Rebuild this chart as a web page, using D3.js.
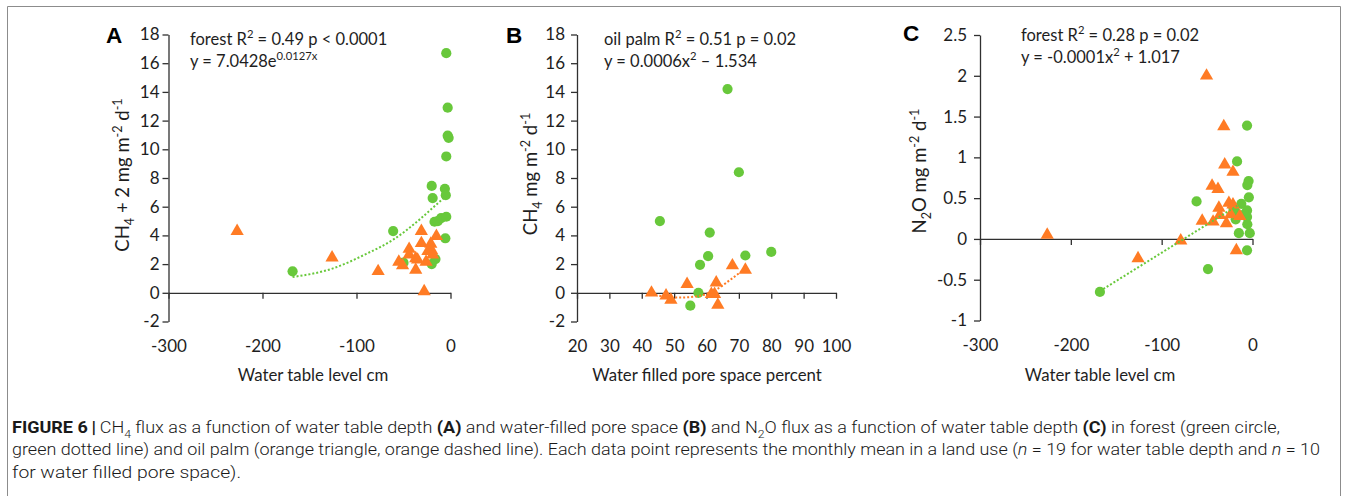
<!DOCTYPE html>
<html>
<head>
<meta charset="utf-8">
<script src="https://cdn.jsdelivr.net/npm/d3@7"></script>
<style>
  body { margin: 0; background: #fff; }
  svg { display: block; }
  text { white-space: pre; }
</style>
</head>
<body>
<svg id="fig" width="1354" height="496"></svg>
<script>
// ---- Panel A: CH4 (+2) vs water table level ----
const aForestWt   = [-168, -61, -50, -20, -19, -6, -5, -17, -13.5, -10, -4.5, -5.5, -16, -20, -4.5, -3, -3, -2, -4.5];
const aForestFlux = [1.5, 4.3, 2.1, 7.45, 6.6, 7.25, 6.8, 4.95, 5.0, 5.2, 5.3, 3.8, 2.35, 2.0, 16.7, 12.9, 10.95, 10.8, 9.5];
const aPalmWt     = [-227, -126, -77, -55, -51, -44, -44, -37, -35, -37, -31, -31, -28, -26, -21, -20, -19, -15, -24];
const aPalmFlux   = [4.3, 2.45, 1.5, 2.15, 1.9, 3.05, 2.65, 2.4, 2.3, 1.6, 4.3, 3.45, 0.1, 2.15, 3.4, 2.95, 2.65, 3.95, 2.9];
const aTrendX     = [-168, -125, -90, -61, -33, -15, -4.6];
const aTrendY     = [1.1, 1.7, 2.7, 3.7, 5.1, 6.15, 6.75];

// ---- Panel B: CH4 vs water filled pore space ----
const bForestWfps = [45.6, 61, 60.5, 58, 72, 80, 57.5, 55, 66.5, 70];
const bForestFlux = [5.0, 4.2, 2.55, 1.95, 2.6, 2.85, 0.0, -0.9, 14.2, 8.4];
const bPalmWfps   = [43, 47.5, 49, 54, 61.5, 62.5, 63, 63.5, 68, 72];
const bPalmFlux   = [0.0, -0.2, -0.5, 0.6, -0.1, -0.1, 0.7, -0.85, 1.9, 1.6];
const bTrendX     = [43, 47, 51, 55, 59, 63, 67, 71.7];
const bTrendY     = [-0.08, -0.26, -0.33, -0.3, -0.15, 0.22, 0.85, 1.65];

// ---- Panel C: N2O vs water table level ----
const cForestWt   = [-6, -17, -4.3, -5.7, -61.6, -4, -12.3, -18.5, -6, -6, -18.5, -5.7, -15, -3, -6, -49, -168, -21, -9];
const cForestFlux = [1.39, 0.95, 0.71, 0.66, 0.46, 0.51, 0.43, 0.33, 0.35, 0.27, 0.24, 0.18, 0.07, 0.07, -0.14, -0.37, -0.65, 0.38, 0.3];
const cPalmWt     = [-50.6, -31.6, -30.6, -21.5, -44.5, -38, -37, -26, -21.5, -36, -14, -55.4, -43.4, -28.7, -17.8, -79, -226, -126, -24];
const cPalmFlux   = [2.0, 1.38, 0.91, 0.82, 0.65, 0.61, 0.38, 0.44, 0.42, 0.29, 0.28, 0.22, 0.21, 0.19, -0.14, -0.02, 0.05, -0.24, 0.3];
const cTrendX     = [-168, -15];
const cTrendY     = [-0.64, 0.42];

// ---- Tick labels ----
const wtTicks   = [-300, -200, -100, 0];
const wfpsTicks = [20, 30, 40, 50, 60, 70, 80, 90, 100];
const ch4Ticks  = [-2, 0, 2, 4, 6, 8, 10, 12, 14, 16, 18];
const n2oTicks  = [-1, -0.5, 0, 0.5, 1, 1.5, 2, 2.5];

const GREEN = "#68C83B";
const ORANGE = "#FF7B24";
const INK = "#1e1e1e";
const AXIS = "#303030";
const FONT = "Lato, 'Open Sans', sans-serif";

const svg = d3.select("#fig");

// outer frame of the figure
svg.append("path")
  .attr("d", "M7.5,496 V6.5 H1340.5 V496")
  .attr("fill", "none").attr("stroke", "#8c8c8c").attr("stroke-width", 1);

// text with sub/superscripts, bold and italic runs
function rich(sel, parts, base) {
  let shift = 0;
  parts.forEach(p => {
    const [str, kind] = typeof p === "string" ? [p, "n"] : p;
    let target = 0, size = base;
    if (kind === "sub") { target = base * 0.28; size = base * 0.68; }
    if (kind === "sup") { target = -base * 0.4; size = base * 0.68; }
    const t = sel.append("tspan").text(str)
      .attr("font-size", size);
    if (target - shift !== 0) t.attr("dy", target - shift);
    if (kind === "b") t.attr("font-weight", "bold");
    if (kind === "i") t.attr("font-style", "italic");
    shift = target;
  });
  return sel;
}

function panel(cfg) {
  const x = d3.scaleLinear().domain(cfg.xDomain).range(cfg.xRange);
  const y = d3.scaleLinear().domain(cfg.yDomain).range(cfg.yRange);
  const g = svg.append("g");
  const fmt = d => String(d);

  const styleAxis = s => {
    s.attr("font-family", FONT).attr("font-size", 17);
    s.selectAll("path, line").attr("stroke", AXIS).attr("stroke-width", 1.3);
    s.selectAll("text").attr("fill", INK);
  };

  // y axis with outward ticks
  g.append("g").attr("transform", `translate(${cfg.xRange[0]},0)`)
    .call(d3.axisLeft(y).tickValues(cfg.yTicks).tickFormat(fmt)
      .tickSize(6).tickSizeOuter(0).tickPadding(cfg.yPad))
    .call(styleAxis);

  // x axis line crossing at zero, ticks only
  g.append("g").attr("transform", `translate(0,${y(0)})`)
    .call(d3.axisBottom(x).tickValues(cfg.xTicks).tickFormat("")
      .tickSize(6).tickSizeOuter(0))
    .call(styleAxis);

  // x tick labels placed below the plot
  g.append("g").attr("transform", `translate(0,${y(cfg.yDomain[0])})`)
    .call(d3.axisBottom(x).tickValues(cfg.xTicks).tickFormat(fmt).tickSize(0))
    .call(styleAxis)
    .call(s => s.select(".domain").remove())
    .call(s => s.selectAll("text").attr("y", 30.5).attr("dy", null));

  // markers
  g.append("g").selectAll("circle")
    .data(d3.zip(cfg.forestX, cfg.forestY)).join("circle")
    .attr("cx", d => x(d[0])).attr("cy", d => y(d[1]))
    .attr("r", 5.1).attr("fill", GREEN);

  const tri = d3.symbol(d3.symbolTriangle, 76);
  g.append("g").selectAll("path")
    .data(d3.zip(cfg.palmX, cfg.palmY)).join("path")
    .attr("d", tri)
    .attr("transform", d => `translate(${x(d[0])},${y(d[1])})`)
    .attr("fill", ORANGE);

  // fitted trend line
  g.append("path")
    .datum(d3.zip(cfg.trendX, cfg.trendY))
    .attr("d", d3.line().x(d => x(d[0])).y(d => y(d[1])).curve(d3.curveMonotoneX))
    .attr("fill", "none").attr("stroke", cfg.trendColor)
    .attr("stroke-width", 2).attr("stroke-dasharray", "2,2");

  // panel letter
  g.append("text").attr("x", cfg.letterX).attr("y", cfg.letterY)
    .attr("font-family", "'Liberation Sans', Arial, sans-serif")
    .attr("font-weight", "bold").attr("font-size", 22.5).attr("fill", "#000")
    .text(cfg.letter);

  // fit statistics
  cfg.notes.forEach((parts, i) => {
    rich(g.append("text").attr("x", cfg.noteX).attr("y", cfg.noteY + i * 22)
      .attr("font-family", FONT).attr("fill", INK), parts, 16.5);
  });

  // axis titles
  rich(g.append("text").attr("x", cfg.xTitleX).attr("y", 381)
    .attr("text-anchor", "middle").attr("font-family", FONT).attr("fill", INK),
    cfg.xTitle, 16.8);
  rich(g.append("text")
    .attr("transform", `translate(${cfg.yTitleX},${cfg.yTitleY}) rotate(-90)`)
    .attr("text-anchor", "middle").attr("font-family", FONT).attr("fill", INK),
    cfg.yTitle, 18.5);
}

panel({
  letter: "A", letterX: 106, letterY: 43,
  xDomain: [-300, 0], xRange: [168.5, 450.5], xTicks: wtTicks,
  yDomain: [-2, 18], yRange: [321.5, 34.5], yTicks: ch4Ticks, yPad: 3,
  forestX: aForestWt, forestY: aForestFlux, palmX: aPalmWt, palmY: aPalmFlux,
  trendX: aTrendX, trendY: aTrendY, trendColor: GREEN,
  noteX: 190, noteY: 45,
  notes: [["forest R", ["2", "sup"], " = 0.49 p < 0.0001"],
          ["y = 7.0428e", ["0.0127x", "sup"]]],
  xTitle: ["Water table level cm"], xTitleX: 313,
  yTitle: ["CH", ["4", "sub"], " + 2 mg m", ["-2", "sup"], " d", ["-1", "sup"]],
  yTitleX: 129, yTitleY: 175
});

panel({
  letter: "B", letterX: 506, letterY: 43,
  xDomain: [20, 100], xRange: [577, 836], xTicks: wfpsTicks,
  yDomain: [-2, 18], yRange: [321.5, 34.5], yTicks: ch4Ticks, yPad: 6,
  forestX: bForestWfps, forestY: bForestFlux, palmX: bPalmWfps, palmY: bPalmFlux,
  trendX: bTrendX, trendY: bTrendY, trendColor: ORANGE,
  noteX: 604, noteY: 45,
  notes: [["oil palm R", ["2", "sup"], " = 0.51 p = 0.02"],
          ["y = 0.0006x", ["2", "sup"], " \u2013 1.534"]],
  xTitle: ["Water filled pore space percent"], xTitleX: 707,
  yTitle: ["CH", ["4", "sub"], " mg m", ["-2", "sup"], " d", ["-1", "sup"]],
  yTitleX: 537, yTitleY: 174
});

panel({
  letter: "C", letterX: 903, letterY: 41,
  xDomain: [-300, 0], xRange: [980, 1252.5], xTicks: wtTicks,
  yDomain: [-1, 2.5], yRange: [320.5, 35], yTicks: n2oTicks, yPad: 7,
  forestX: cForestWt, forestY: cForestFlux, palmX: cPalmWt, palmY: cPalmFlux,
  trendX: cTrendX, trendY: cTrendY, trendColor: GREEN,
  noteX: 1021, noteY: 41,
  notes: [["forest R", ["2", "sup"], " = 0.28 p = 0.02"],
          ["y = -0.0001x", ["2", "sup"], " + 1.017"]],
  xTitle: ["Water table level cm"], xTitleX: 1100,
  yTitle: ["N", ["2", "sub"], "O mg m", ["-2", "sup"], " d", ["-1", "sup"]],
  yTitleX: 926, yTitleY: 171
});

// figure caption
const CAP_FONT = "Roboto, 'Liberation Sans', sans-serif";
const captionLines = [
  { y: 433, width: 1268, parts: [["FIGURE 6", "b"], ["\u2009|\u2009", "b"], "CH", ["4", "sub"],
    " flux as a function of water table depth ", ["(A)", "b"], " and water-filled pore space ",
    ["(B)", "b"], " and N", ["2", "sub"], "O flux as a function of water table depth ",
    ["(C)", "b"], " in forest (green circle,"] },
  { y: 455, width: 1308, parts: ["green dotted line) and oil palm (orange triangle, orange dashed line). Each data point represents the monthly mean in a land use (",
    ["n", "i"], " = 19 for water table depth and ", ["n", "i"], " = 10"] },
  { y: 478, width: 229, parts: ["for water filled pore space)."] }
];
captionLines.forEach(line => {
  const t = svg.append("text").attr("x", 12).attr("y", line.y)
    .attr("font-family", CAP_FONT).attr("font-weight", 300).attr("fill", "#1a1a1a")
    .attr("textLength", line.width).attr("lengthAdjust", "spacingAndGlyphs");
  rich(t, line.parts, 17);
});
</script>
</body>
</html>
